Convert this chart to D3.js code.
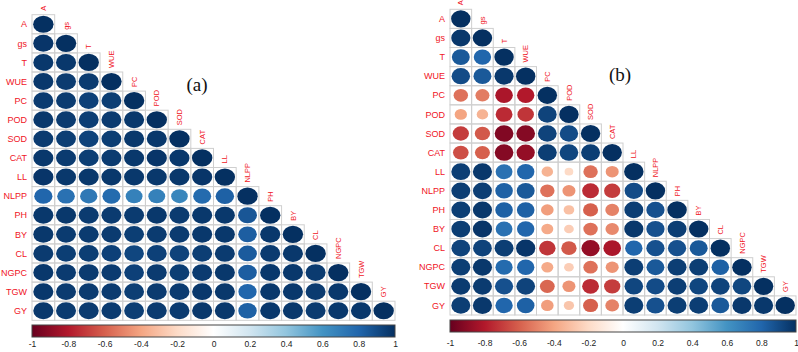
<!DOCTYPE html>
<html>
<head>
<meta charset="utf-8">
<script src="https://cdn.jsdelivr.net/npm/d3@7"></script>
<style>
  body { margin: 0; background: #fff; }
  svg { display: block; font-family: Arial, "Liberation Sans", sans-serif; }
  .rowlab, .collab { fill: #f0141e; }
  .panel-tag { font-family: "Liberation Serif", "DejaVu Serif", serif; font-size: 19px; fill: #111; }
  .cbar text { font-size: 8.5px; fill: #222; }
</style>
</head>
<body>
<script>
const vars = ['A', 'gs', 'T', 'WUE', 'PC', 'POD', 'SOD', 'CAT', 'LL', 'NLPP', 'PH', 'BY', 'CL', 'NGPC', 'TGW', 'GY'];

// lower triangle, row by row (row i holds columns 0..i)
const corrA = [
  [1],
  [0.98, 1],
  [0.97, 0.97, 1],
  [0.97, 0.96, 0.96, 1],
  [0.96, 0.96, 0.94, 0.95, 1],
  [0.97, 0.96, 0.95, 0.96, 0.97, 1],
  [0.96, 0.95, 0.93, 0.95, 0.97, 0.97, 1],
  [0.97, 0.96, 0.95, 0.96, 0.97, 0.98, 0.97, 1],
  [0.98, 0.97, 0.97, 0.97, 0.97, 0.97, 0.97, 0.98, 1],
  [0.80, 0.75, 0.72, 0.78, 0.68, 0.68, 0.66, 0.78, 0.82, 1],
  [0.97, 0.97, 0.96, 0.96, 0.96, 0.97, 0.96, 0.97, 0.97, 0.86, 1],
  [0.97, 0.96, 0.96, 0.96, 0.95, 0.96, 0.96, 0.97, 0.97, 0.83, 0.97, 1],
  [0.96, 0.95, 0.95, 0.94, 0.92, 0.94, 0.93, 0.95, 0.96, 0.84, 0.96, 0.97, 1],
  [0.97, 0.96, 0.96, 0.96, 0.94, 0.96, 0.95, 0.96, 0.97, 0.83, 0.97, 0.97, 0.96, 1],
  [0.97, 0.96, 0.96, 0.96, 0.95, 0.96, 0.96, 0.97, 0.97, 0.80, 0.97, 0.97, 0.96, 0.97, 1],
  [0.97, 0.96, 0.96, 0.96, 0.95, 0.96, 0.96, 0.97, 0.97, 0.82, 0.97, 0.97, 0.96, 0.97, 0.97, 1]
];

const corrB = [
  [1],
  [0.97, 1],
  [0.85, 0.80, 1],
  [0.90, 0.85, 0.97, 1],
  [-0.55, -0.52, -0.82, -0.80, 1],
  [-0.40, -0.35, -0.75, -0.72, 0.93, 1],
  [-0.70, -0.62, -0.93, -0.92, 0.93, 0.90, 1],
  [-0.65, -0.60, -0.92, -0.88, 0.95, 0.92, 0.95, 1],
  [0.95, 0.97, 0.75, 0.80, -0.35, -0.20, -0.55, -0.45, 1],
  [0.95, 0.95, 0.82, 0.85, -0.55, -0.45, -0.75, -0.70, 0.90, 1],
  [0.95, 0.97, 0.82, 0.82, -0.42, -0.30, -0.60, -0.50, 0.95, 0.88, 1],
  [0.95, 0.98, 0.75, 0.80, -0.38, -0.25, -0.55, -0.48, 0.97, 0.88, 0.95, 1],
  [0.93, 0.93, 0.95, 0.98, -0.72, -0.62, -0.88, -0.82, 0.80, 0.88, 0.88, 0.85, 1],
  [0.95, 0.97, 0.78, 0.80, -0.38, -0.25, -0.55, -0.45, 0.95, 0.85, 0.95, 0.95, 0.82, 1],
  [0.96, 0.96, 0.88, 0.93, -0.58, -0.45, -0.75, -0.70, 0.92, 0.90, 0.95, 0.92, 0.93, 0.92, 1],
  [0.95, 0.97, 0.80, 0.82, -0.42, -0.28, -0.60, -0.50, 0.95, 0.88, 0.95, 0.95, 0.85, 0.97, 0.97, 1]
];

const legendTicks = [-1, -0.8, -0.6, -0.4, -0.2, 0, 0.2, 0.4, 0.6, 0.8, 1];

// corrplot RdBu palette
const rdbu = ['#67001F', '#B2182B', '#D6604D', '#F4A582', '#FDDBC7', '#FFFFFF',
              '#D1E5F0', '#92C5DE', '#4393C3', '#2166AC', '#053061'];
const color = d3.scaleLinear()
  .domain(d3.range(11).map(i => -1 + i * 0.2))
  .range(rdbu)
  .interpolate(d3.interpolateRgb);

const W = 798, H = 352;
const svg = d3.select('body').append('svg').attr('width', W).attr('height', H);

const defs = svg.append('defs');
const grad = defs.append('linearGradient').attr('id', 'rdbu');
rdbu.forEach((c, i) => grad.append('stop').attr('offset', (i * 10) + '%').attr('stop-color', c));

const drawPanel = (data, p) => {
  const g = svg.append('g');
  const x = d3.scaleBand().domain(vars).range([p.x0, p.x1]);
  const y = d3.scaleBand().domain(vars).range([p.y0, p.y1]);
  const bw = x.bandwidth(), bh = y.bandwidth();

  const cells = [];
  data.forEach((row, i) => row.forEach((v, j) => cells.push({r: vars[i], c: vars[j], v})));

  g.selectAll('rect.cell')
    .data(cells)
    .enter()
    .append('rect')
    .attr('class', 'cell')
    .attr('x', d => x(d.c))
    .attr('y', d => y(d.r))
    .attr('width', bw)
    .attr('height', bh)
    .attr('fill', 'none')
    .attr('stroke', '#cfcfcf')
    .attr('stroke-width', 1);

  g.selectAll('ellipse')
    .data(cells)
    .enter()
    .append('ellipse')
    .attr('cx', d => x(d.c) + bw / 2)
    .attr('cy', d => y(d.r) + bh / 2)
    .attr('rx', d => 0.45 * Math.sqrt(Math.abs(d.v)) * bw)
    .attr('ry', d => 0.45 * Math.sqrt(Math.abs(d.v)) * bh)
    .attr('fill', d => color(d.v));

  g.selectAll('text.rowlab')
    .data(vars)
    .enter()
    .append('text')
    .attr('class', 'rowlab')
    .attr('x', p.x0 - 5)
    .attr('y', d => y(d) + bh / 2)
    .attr('dy', '0.35em')
    .attr('text-anchor', 'end')
    .style('font-size', '9px')
    .text(d => d);

  g.selectAll('text.collab')
    .data(vars)
    .enter()
    .append('text')
    .attr('class', 'collab')
    .attr('transform', d => `translate(${x(d) + bw / 2},${y(d) - 4}) rotate(-90)`)
    .attr('dy', '0.35em')
    .attr('text-anchor', 'start')
    .style('font-size', '7.5px')
    .text(d => d);

  // colour legend
  const lx = d3.scaleLinear().domain([-1, 1]).range([p.x0, p.x1]);
  const cb = g.append('g').attr('class', 'cbar');
  cb.append('rect')
    .attr('x', p.x0)
    .attr('y', p.cbY)
    .attr('width', p.x1 - p.x0)
    .attr('height', p.cbH)
    .attr('fill', 'url(#rdbu)')
    .attr('stroke', '#444')
    .attr('stroke-width', 1);

  cb.append('g')
    .attr('transform', `translate(0,${p.cbY + p.cbH})`)
    .call(d3.axisBottom(lx).tickValues(legendTicks).tickSize(0).tickPadding(p.pad)
      .tickFormat(d => String(+d.toFixed(1))))
    .call(a => a.select('.domain').remove())
    .call(a => a.selectAll('text').style('font-size', '8.5px').attr('fill', '#222'));

  g.append('text')
    .attr('class', 'panel-tag')
    .attr('x', p.tagX)
    .attr('y', p.tagY)
    .attr('text-anchor', 'middle')
    .text(p.tag);
};

drawPanel(corrA, {x0: 32, x1: 395, y0: 14.7, y1: 320.3, cbY: 325, cbH: 12, pad: 4, tag: '(a)', tagX: 197, tagY: 91});
drawPanel(corrB, {x0: 450, x1: 796, y0: 9.3, y1: 315, cbY: 320, cbH: 12, pad: 8, tag: '(b)', tagX: 620, tagY: 81});
</script>
</body>
</html>
